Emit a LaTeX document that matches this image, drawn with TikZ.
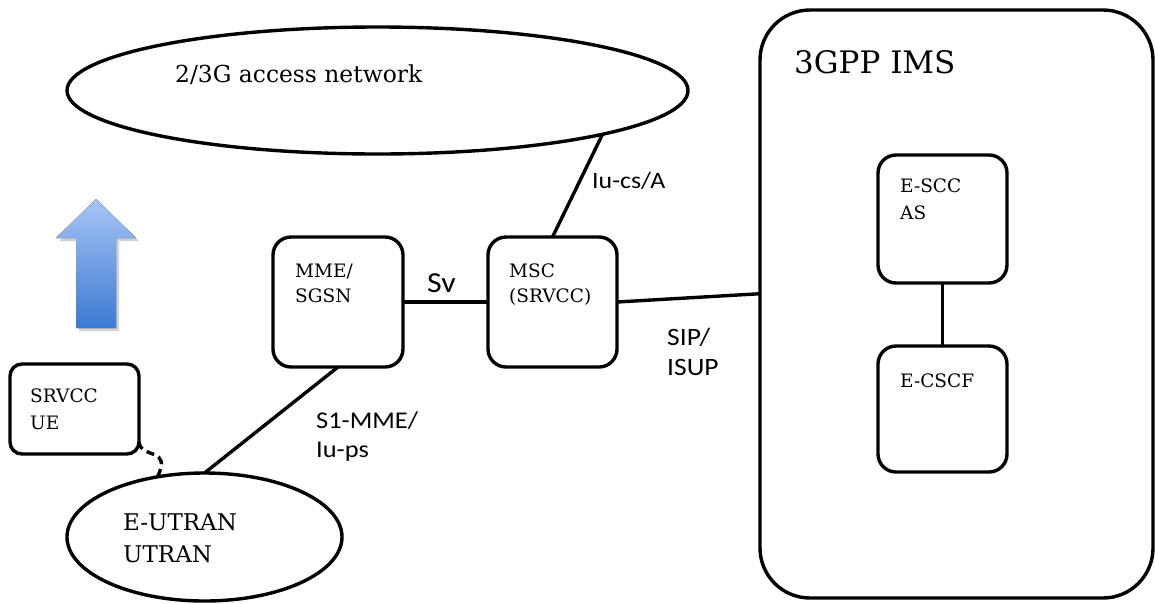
\documentclass[tikz,border=0pt]{standalone}
\usepackage{fontspec}
\setmainfont{DejaVu Serif}
\newfontfamily\lblfont[FakeStretch=1.1]{Carlito}
\usetikzlibrary{shapes.geometric}
\definecolor{arrowtop}{HTML}{A6C5F5}
\definecolor{arrowbot}{HTML}{3C7AD2}
\tikzset{
  box/.style={draw, line width=3.4pt, rounded corners=18pt, inner sep=0pt, outer sep=0pt},
  cloud/.style={draw, ellipse, line width=3.4pt, inner sep=0pt, outer sep=0pt},
  conn/.style={line width=3.4pt},
  txt/.style={anchor=base west, inner sep=0pt, font=\fontsize{18.5}{22}\selectfont},
  lbl/.style={anchor=base west, inner sep=0pt, font=\lblfont\fontsize{24}{28}\selectfont}
}
\begin{document}
\begin{tikzpicture}[x=1pt,y=-1pt]
\useasboundingbox (0,0) rectangle (1155,603);

% access networks
\node[cloud, minimum width=621pt, minimum height=127pt] (acc) at (377.5,90.5) {};
\node[txt, font=\fontsize{23.4}{28}\selectfont] (acctxt) at (175,82) {2/3G access network};
\node[cloud, minimum width=275pt, minimum height=128pt] (eut) at (204.5,537) {};
\node[txt, font=\fontsize{23}{28}\selectfont] (euttxt1) at (123,530) {E-UTRAN};
\node[txt, font=\fontsize{23}{28}\selectfont] (euttxt2) at (123,562) {UTRAN};

% handover arrow
\fill[black!18] (79,331) -- (79,241) -- (59,241) -- (99,202) -- (139,241) -- (119,241) -- (119,331) -- cycle;
\fill[top color=arrowtop, bottom color=arrowbot]
  (76,328) -- (76,238) -- (56,238) -- (96,199) -- (136,238) -- (116,238) -- (116,328) -- cycle;

% terminal
\node[box, rounded corners=12pt, minimum width=129pt, minimum height=90pt] (ue) at (74.5,409) {};
\node[txt] (uetxt1) at (30,402) {SRVCC};
\node[txt] (uetxt2) at (30,429) {UE};

% core nodes
\node[box, minimum width=130pt, minimum height=130pt] (mme) at (338,302) {};
\node[txt] (mmetxt1) at (295,277) {MME/};
\node[txt] (mmetxt2) at (295,302) {SGSN};
\node[box, minimum width=129pt, minimum height=130pt] (msc) at (552.5,302) {};
\node[txt] (msctxt1) at (509,277) {MSC};
\node[txt] (msctxt2) at (509,302) {(SRVCC)};

% IMS domain
\node[box, rounded corners=50pt, minimum width=393pt, minimum height=588pt] (ims) at (956.5,304) {};
\node[txt, font=\fontsize{31}{36}\selectfont] (imstxt) at (794,73) {3GPP IMS};
\node[box, minimum width=129pt, minimum height=128pt] (escc) at (942.5,219) {};
\node[txt] (escctxt1) at (900,192) {E-SCC};
\node[txt] (escctxt2) at (900,219) {AS};
\node[box, minimum width=129pt, minimum height=126pt] (ecscf) at (942.5,409) {};
\node[txt] (ecscftxt) at (900,387) {E-CSCF};

% interfaces
\draw[conn] (acc.-11.5) -- (msc.north);
\node[lbl, font=\lblfont\fontsize{23.5}{28}\selectfont] (iucs) at (592,188) {Iu-cs/A};
\draw[conn] (mme.east) -- (msc.west);
\node[lbl, font=\lblfont\fontsize{29}{32}\selectfont] (sv) at (427,292) {Sv};
\draw[conn] (msc.east) -- (ims.177.7);
\node[lbl, font=\lblfont\fontsize{25}{28}\selectfont] (sip1) at (667,345) {SIP/};
\node[lbl, font=\lblfont\fontsize{25}{28}\selectfont] (sip2) at (667,375) {ISUP};
\draw[conn] (eut.north) -- (mme.south);
\node[lbl] (s1a) at (316,428) {S1-MME/};
\node[lbl] (s1b) at (316,457) {Iu-ps};
\draw[conn] (escc.south) -- (ecscf.north);
\draw[conn, dash pattern=on 8pt off 5pt]
  (ue.-27) .. controls (141,460) and (172,446) .. (eut.128);
\end{tikzpicture}
\end{document}
